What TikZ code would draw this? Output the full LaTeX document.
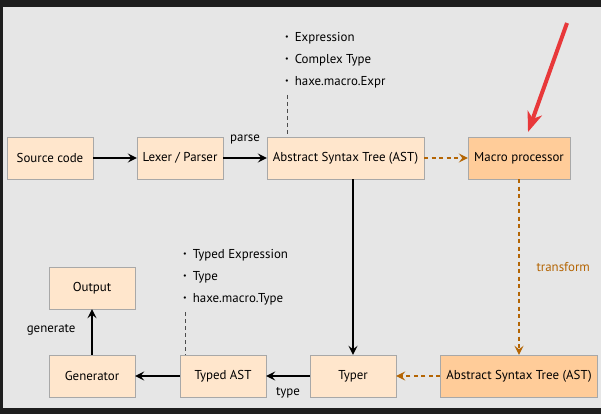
\documentclass[tikz,border=0pt]{standalone}
\usepackage{fontspec}
\setmainfont{PT Sans}
\usepackage{xcolor}
\usetikzlibrary{arrows.meta,positioning,calc}
\definecolor{frame}{HTML}{1E1E1E}
\definecolor{paper}{HTML}{E6E6E6}
\definecolor{peach}{HTML}{FFE6CC}
\definecolor{apricot}{HTML}{FFCC99}
\definecolor{boxline}{HTML}{A8A8A8}
\definecolor{rust}{HTML}{B46504}
\definecolor{alarm}{HTML}{E8383A}

\begin{document}
\begin{tikzpicture}[x=1pt,y=-1pt,
    font=\fontsize{12.9}{15}\selectfont,
    stage/.style={rectangle,draw=boxline,fill=peach,minimum width=86pt,minimum height=42pt,inner sep=2pt},
    wide/.style={stage,minimum width=157pt},
    hot/.style={fill=apricot},
    flow/.style={-{Stealth[length=9pt,width=9pt,inset=3.5pt]},line width=1.2pt},
    macroflow/.style={-{Stealth[length=9pt,width=9pt,inset=3.5pt]},rust,line width=1.1pt,dash pattern=on 4pt off 3.5pt},
    noteline/.style={draw=black!70,line width=0.5pt,dash pattern=on 4pt off 3pt},
    bullet/.style={anchor=west,inner sep=0pt}]

    % Frame
    \fill[frame] (0,0) rectangle (601,414);
    \fill[paper] (3,7) rectangle (601,408);

    % Top row
    \node[stage] (source) at (50,158) {Source code};
    \node[stage] (lexer) at (180,158) {Lexer / Parser};
    \node[wide] (ast) at (345.5,158) {Abstract Syntax Tree (AST)};
    \node[stage,hot,minimum width=102pt] (macro) at (519,158) {Macro processor};

    % Bottom row
    \node[stage] (output) at (92,288) {Output};
    \node[stage] (generator) at (92,376) {Generator};
    \node[stage] (typedast) at (223,376) {Typed AST};
    \node[stage] (typer) at (353,376) {Typer};
    \node[wide,hot] (macroast) at (519,376) {Abstract Syntax Tree (AST)};

    % Notes
    \foreach \i/\t in {1/Expression,2/Complex Type,3/haxe.macro.Expr} {
        \node[bullet] (expr\i) at (285,16+22*\i) {\raisebox{0.25ex}{\footnotesize\textbullet}\hspace{6pt}\t};
    }
    \foreach \i/\t in {1/Typed Expression,2/Type,3/haxe.macro.Type} {
        \node[bullet] (typed\i) at (183,233+22*\i) {\raisebox{0.25ex}{\footnotesize\textbullet}\hspace{6pt}\t};
    }
    \coordinate (exprnote) at (287,95);
    \coordinate (typednote) at (185,312);
    \draw[noteline] (exprnote) -- (exprnote |- ast.north);
    \draw[noteline] (typednote) -- (typednote |- typedast.north);

    % Arrows
    \foreach \i/\j in {source/lexer, lexer/ast, typer/typedast, typedast/generator, generator/output} {
        \draw[flow] (\i) -- (\j);
    }
    \draw[flow] (ast.south -| typer) -- (typer);
    \draw[macroflow] (ast) -- (macro);
    \draw[macroflow] (macro) -- (macroast);
    \draw[macroflow] (macroast) -- (typer);

    % Labels
    \node at (245,139) {parse};
    \node at (288,393) {type};
    \node[anchor=east] at (79,330) {generate};
    \node[anchor=west,text=rust] at (533,267) {transform};

    % Pointer
    \coordinate (pointtail) at (567,23);
    \coordinate (pointtip) at (528,132);
    \draw[alarm,line width=4pt,-{Stealth[length=20pt,width=15pt,inset=6pt]}] (pointtail) -- (pointtip);
\end{tikzpicture}
\end{document}
